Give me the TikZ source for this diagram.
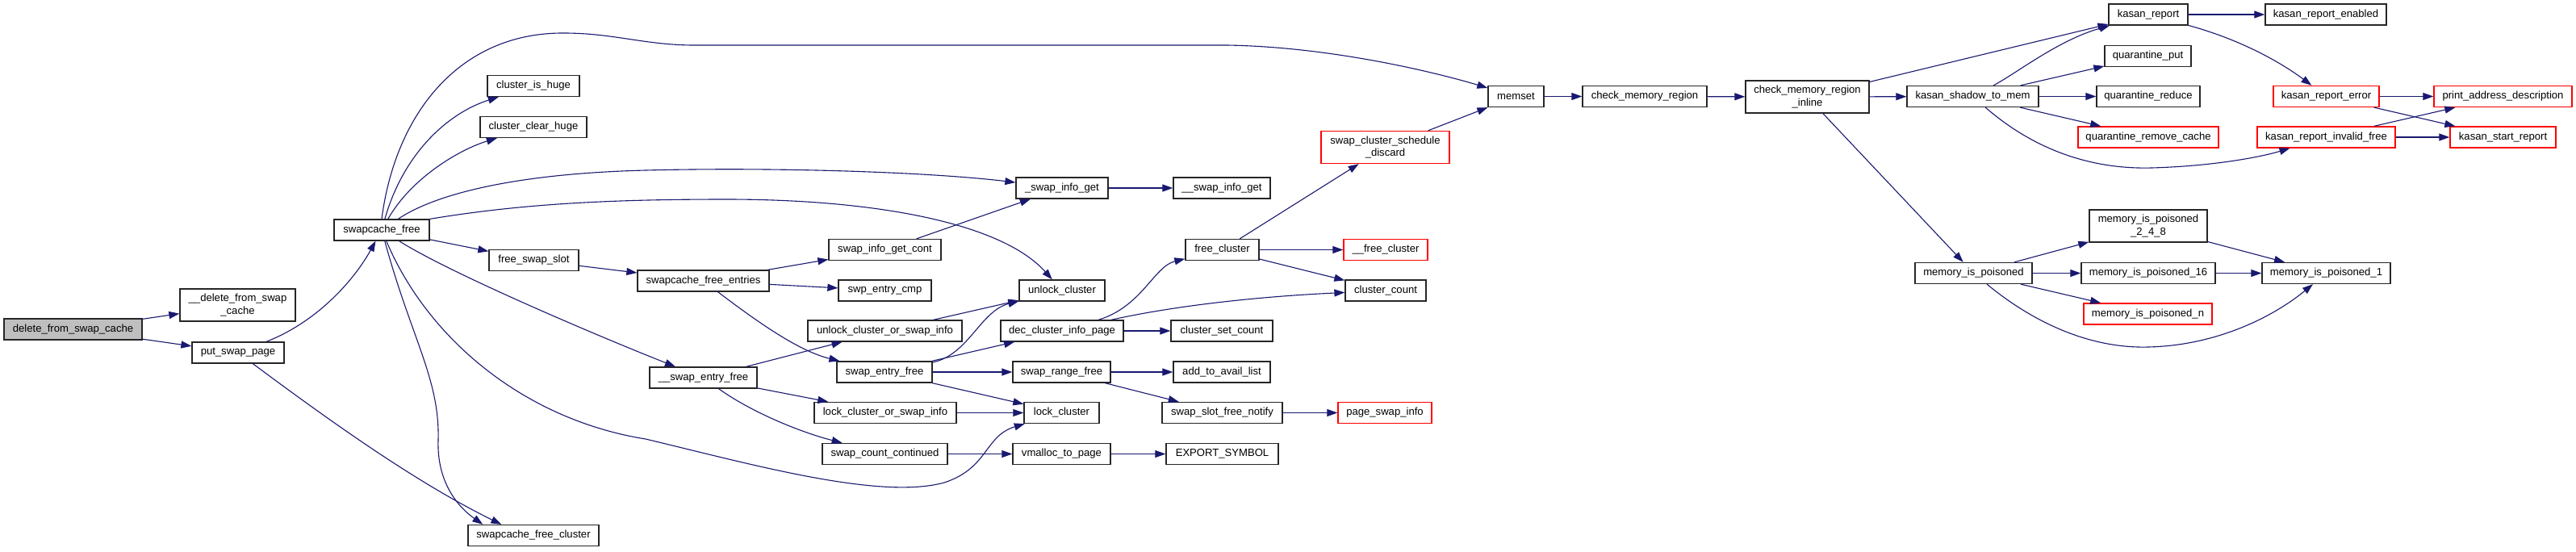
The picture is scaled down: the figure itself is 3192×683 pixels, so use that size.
\documentclass[tikz,border=0pt]{standalone}
\usepackage{fontspec}
\setmainfont{Liberation Sans}
\usetikzlibrary{arrows.meta}
\definecolor{eblue}{HTML}{191970}
\tikzset{
  box/.style={draw=black!85, fill=white, line width=1.3pt, inner sep=0pt,
    font=\fontsize{13.1}{15.5}\selectfont, align=center, minimum height=26pt},
  redbox/.style={box, draw=red},
  twoline/.style={minimum height=40pt},
  e/.style={draw=eblue, line width=1.1pt, -{Triangle[length=13pt,width=9pt]}}
}
\begin{document}
\begin{tikzpicture}[x=1pt,y=-1pt]
\useasboundingbox[fill=white] (0,0) rectangle (3192,683);
% nodes
\node[box,minimum width=171pt,fill=black!25] (dfsc) at (90.5,408) {delete\_from\_swap\_cache};
\node[box,twoline,minimum width=143pt] (ddfsc) at (294.5,378) {\_\_delete\_from\_swap\\\_cache};
\node[box,minimum width=114pt] (psp) at (295,437) {put\_swap\_page};
\node[box,minimum width=118pt] (scf) at (473,285) {swapcache\_free};
\node[box,minimum width=114pt] (cih) at (661,106.5) {cluster\_is\_huge};
\node[box,minimum width=132pt] (cch) at (661,157.5) {cluster\_clear\_huge};
\node[box,minimum width=111pt] (fss) at (661.5,322.5) {free\_swap\_slot};
\node[box,minimum width=162pt] (sfc) at (661,663.5) {swapcache\_free\_cluster};
\node[box,minimum width=163pt] (sfe) at (871.5,348) {swapcache\_free\_entries};
\node[box,minimum width=139pt] (sigc) at (1096.5,309.5) {swap\_info\_get\_cont};
\node[box,minimum width=115pt] (sec) at (1096.5,360) {swp\_entry\_cmp};
\node[box,minimum width=191pt] (ucsi) at (1096.5,410) {unlock\_cluster\_or\_swap\_info};
\node[box,minimum width=133pt] (usef) at (871.5,468) {\_\_swap\_entry\_free};
\node[box,minimum width=118pt] (sef) at (1096,461) {swap\_entry\_free};
\node[box,minimum width=176pt] (lcsi) at (1097,511.5) {lock\_cluster\_or\_swap\_info};
\node[box,minimum width=155pt] (scc) at (1096.5,562.5) {swap\_count\_continued};
\node[box,minimum width=114pt] (sig) at (1316,233) {\_swap\_info\_get};
\node[box,minimum width=120pt] (ssig) at (1514,233) {\_\_swap\_info\_get};
\node[box,minimum width=106pt] (uc) at (1316,360) {unlock\_cluster};
\node[box,minimum width=152pt] (dcip) at (1316,410) {dec\_cluster\_info\_page};
\node[box,minimum width=93pt] (lc) at (1315.5,511.5) {lock\_cluster};
\node[box,minimum width=121pt] (vtp) at (1315.5,562.5) {vmalloc\_to\_page};
\node[box,minimum width=121pt] (srf) at (1315.5,461) {swap\_range\_free};
\node[box,minimum width=91pt] (fc) at (1514.5,309.5) {free\_cluster};
\node[box,minimum width=126pt] (csc) at (1514,410) {cluster\_set\_count};
\node[box,minimum width=120pt] (atal) at (1514,461) {add\_to\_avail\_list};
\node[box,minimum width=149pt] (ssfn) at (1514.5,511.5) {swap\_slot\_free\_notify};
\node[box,minimum width=139pt] (es) at (1514.5,562.5) {EXPORT\_SYMBOL};
\node[box,minimum width=69pt] (ms) at (1878.5,119.5) {memset};
\node[box,minimum width=154pt] (cmr) at (2038,119.5) {check\_memory\_region};
\node[box,twoline,minimum width=153pt] (cmri) at (2239.5,120) {check\_memory\_region\\\_inline};
\node[redbox,twoline,minimum width=159pt] (scsd) at (1716.5,182.5) {swap\_cluster\_schedule\\\_discard};
\node[redbox,minimum width=104pt] (ufc) at (1717,309.5) {\_\_free\_cluster};
\node[box,minimum width=100pt] (cc) at (1717,360) {cluster\_count};
\node[redbox,minimum width=116pt] (psi) at (1716,511.5) {page\_swap\_info};
\node[box,minimum width=98pt] (kr) at (2662,18) {kasan\_report};
\node[box,minimum width=150pt] (kre) at (2882,18) {kasan\_report\_enabled};
\node[box,minimum width=107pt] (qp) at (2661.5,69.5) {quarantine\_put};
\node[box,minimum width=163pt] (kstm) at (2444.5,119.5) {kasan\_shadow\_to\_mem};
\node[box,minimum width=128pt] (qr) at (2662,119.5) {quarantine\_reduce};
\node[redbox,minimum width=174pt] (qrc) at (2662,170) {quarantine\_remove\_cache};
\node[redbox,minimum width=131pt] (kerr) at (2882.5,119.5) {kasan\_report\_error};
\node[redbox,minimum width=171pt] (krif) at (2882.5,170) {kasan\_report\_invalid\_free};
\node[redbox,minimum width=171pt] (pad) at (3101.5,119.5) {print\_address\_description};
\node[redbox,minimum width=131pt] (ksr) at (3101.5,170) {kasan\_start\_report};
\node[box,twoline,minimum width=146pt] (mip248) at (2662,280) {memory\_is\_poisoned\\\_2\_4\_8};
\node[box,minimum width=145pt] (mip) at (2445.5,338.5) {memory\_is\_poisoned};
\node[box,minimum width=166pt] (mip16) at (2662,338.5) {memory\_is\_poisoned\_16};
\node[box,minimum width=159pt] (mip1) at (2882.5,338.5) {memory\_is\_poisoned\_1};
\node[redbox,minimum width=159pt] (mipn) at (2661.5,389) {memory\_is\_poisoned\_n};
% edges
\draw[e] (dfsc) -- (ddfsc);
\draw[e] (dfsc) -- (psp);
\draw[e] (psp) .. controls (395,398) and (440,345) .. (scf);
\draw[e] (psp) .. controls (420,530) and (520,600) .. ([xshift=42pt]sfc.north west);
\draw[e] (scf.north) .. controls (490,140) and (570,40) .. (699,41) .. controls (760,41) and (800,56) .. (860,56) -- (1520,56) .. controls (1650,58) and (1780,90) .. (ms);
\draw[e] (scf) .. controls (500,190) and (555,140) .. (cih);
\draw[e] (scf) .. controls (510,220) and (570,185) .. (cch);
\draw[e] (scf) .. controls (540,240) and (640,215) .. (800,211) .. controls (960,207) and (1150,213) .. (sig);
\draw[e] (scf.north east) .. controls (650,252) and (760,247) .. (900,247) .. controls (1080,247) and (1240,275) .. (uc);
\draw[e] (scf) -- (fss);
\draw[e] (scf) .. controls (560,340) and (750,420) .. (usef);
\draw[e] (scf) .. controls (530,420) and (650,520) .. (800,544) .. controls (930,575) and (1090,620) .. (1170,598) .. controls (1225,580) and (1220,540) .. (lc);
\draw[e] (scf) .. controls (510,420) and (545,470) .. (543,545) .. controls (541,600) and (570,630) .. ([xshift=19pt]sfc.north west);
\draw[e] (fss) -- (sfe);
\draw[e] (sfe) -- (sigc);
\draw[e] (sfe) -- (sec);
\draw[e] (sfe) .. controls (940,400) and (990,435) .. (sef);
\draw[e] (usef) -- (ucsi);
\draw[e] (usef) -- (lcsi);
\draw[e] (usef) .. controls (930,510) and (990,535) .. (scc);
\draw[e] (ucsi) -- (uc);
\draw[e] (sef) .. controls (1200,440) and (1215,385) .. (uc);
\draw[e] (sef) -- (dcip);
\draw[e] (sef) -- (srf);
\draw[e] (sef) -- (lc);
\draw[e] (lcsi) -- (lc);
\draw[e] (scc) -- (vtp);
\draw[e] (vtp) -- (es);
\draw[e] (sigc) -- (sig);
\draw[e] (sig) -- (ssig);
\draw[e] (dcip) .. controls (1415,380) and (1430,330) .. (fc);
\draw[e] (dcip) -- (csc);
\draw[e] (dcip) .. controls (1450,380) and (1550,368) .. (cc);
\draw[e] (srf) -- (atal);
\draw[e] (srf) -- (ssfn);
\draw[e] (ssfn) -- (psi);
\draw[e] (fc) -- (scsd);
\draw[e] (fc) -- (ufc);
\draw[e] (fc) -- (cc);
\draw[e] (scsd) -- (ms);
\draw[e] (ms) -- (cmr);
\draw[e] (cmr) -- (cmri);
\draw[e] (cmri) -- (kr);
\draw[e] (cmri) -- (kstm);
\draw[e] (cmri) -- (mip);
\draw[e] (kstm) .. controls (2500,90) and (2550,50) .. (kr);
\draw[e] (kstm) -- (qp);
\draw[e] (kstm) -- (qr);
\draw[e] (kstm) -- (qrc);
\draw[e] (kstm) .. controls (2520,185) and (2590,210) .. (2666,208) .. controls (2740,206) and (2800,195) .. (krif);
\draw[e] (kr) -- (kre);
\draw[e] (kr) .. controls (2780,50) and (2830,80) .. (kerr);
\draw[e] (kerr) -- (pad);
\draw[e] (kerr) -- (ksr);
\draw[e] (krif) -- (pad);
\draw[e] (krif) -- (ksr);
\draw[e] (mip) -- (mip248);
\draw[e] (mip) -- (mip16);
\draw[e] (mip) -- (mipn);
\draw[e] (mip) .. controls (2520,400) and (2590,432) .. (2662,430) .. controls (2750,428) and (2820,390) .. (mip1);
\draw[e] (mip248) -- (mip1);
\draw[e] (mip16) -- (mip1);
\end{tikzpicture}
\end{document}
